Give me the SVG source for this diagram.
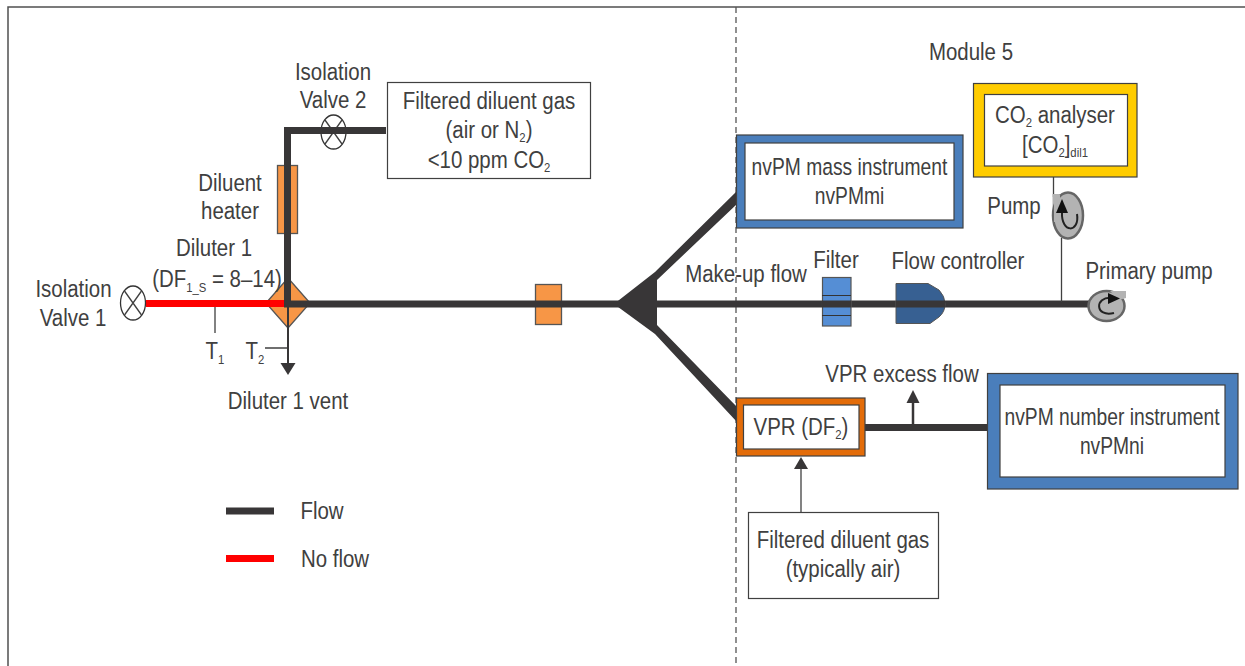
<svg xmlns="http://www.w3.org/2000/svg" width="1245" height="666" viewBox="0 0 1245 666">
<style>
text{font-family:"Liberation Sans",Arial,sans-serif;font-size:23.500px;fill:#404040;text-anchor:middle;transform-box:fill-box;transform-origin:center;transform:scaleX(.87)}
text.n{transform:scaleX(.82)}
.s{font-size:13px}
.flow{fill:none;stroke:#383637;stroke-width:7}
.thin{fill:none;stroke:#404040;stroke-width:1.300}
.box{fill:#fff;stroke:#404040;stroke-width:1.200}
.valve{fill:#fff;stroke:#333;stroke-width:1.300}
.heat{fill:#f79646;stroke:#555;stroke-width:1.300}
.pump{fill:#b3b3b3;stroke:#666;stroke-width:2.500}
.in{fill:none;stroke:#222;stroke-width:2}
.outer{stroke:#404040;stroke-width:1.200}
</style>
<rect width="1245" height="666" fill="#fff"/>
<path d="M8 666V7H1245" fill="none" stroke="#505050" stroke-width="1.500"/>
<path d="M736 7V666" fill="none" stroke="#555" stroke-width="1.300" stroke-dasharray="6 4"/>

<g id="diluter-1"><path class="heat" d="M288 278L310 303L288 328L266 303Z"/></g>
<g id="diluent-heater"><rect class="heat" x="277.500" y="165.500" width="20" height="68"/></g>
<g id="inline-heater"><rect class="heat" x="535.500" y="284.500" width="26" height="40"/></g>
<g id="isolation-valve-2"><ellipse class="valve" cx="333.500" cy="132" rx="12.500" ry="17"/><path class="thin" d="M325 120L342 144M342 120L325 144"/>
<text x="333" y="80">Isolation</text><text x="333" y="108">Valve 2</text></g>

<g id="connectors">
<path d="M146 303.500H284" fill="none" stroke="#f00" stroke-width="7"/>
<path class="flow" d="M386 130.500H287.500V304"/>
<path class="flow" d="M284 304H1090"/>
<path d="M614 304L655 272L737 191V204L657 280V325L737 407V422L655 334Z" fill="#383637"/>
<path class="flow" d="M865 427.500H988"/>
<path class="thin" d="M215 307V333M265 348H288"/>
<path d="M288 307V366" fill="none" stroke="#383637" stroke-width="2"/>
<path d="M280.500 363H295.500L288 375Z" fill="#383637"/>
<path d="M913 424V400" fill="none" stroke="#383637" stroke-width="2.500"/>
<path d="M906.500 403H919.500L913 390Z" fill="#383637"/>
<path class="thin" d="M801 512V466"/>
<path d="M794 469H808L801 457Z" fill="#383637"/>
<path class="thin" d="M1053.500 177V197M1061.500 238V302"/>
</g>

<g id="isolation-valve-1"><ellipse class="valve" cx="133" cy="303" rx="12.500" ry="17"/><path class="thin" d="M124.500 291L141.500 315M141.500 291L124.500 315"/>
<text x="73.500" y="297">Isolation</text><text x="73" y="326">Valve 1</text></g>

<g id="filtered-gas-top"><rect class="box" x="387.500" y="82.500" width="203" height="96"/>
<text x="489" y="109">Filtered diluent gas</text>
<text x="489" y="138">(air or N<tspan class="s" dy="4">2</tspan><tspan dy="-4">)</tspan></text>
<text x="489" y="168">&lt;10 ppm CO<tspan class="s" dy="4">2</tspan></text></g>

<g id="labels-left">
<text x="230" y="191">Diluent</text>
<text x="230" y="219">heater</text>
<text x="214" y="256">Diluter 1</text>
<text x="217" y="287">(DF<tspan class="s" dy="5">1_S</tspan><tspan dy="-5"> = 8–14)</tspan></text>
<text x="215" y="359">T<tspan class="s" dy="5">1</tspan></text>
<text x="255" y="359">T<tspan class="s" dy="5">2</tspan></text>
<text x="288" y="409">Diluter 1 vent</text>
</g>

<g id="legend">
<path d="M226 511H274" fill="none" stroke="#383637" stroke-width="7"/>
<path d="M226 558.500H274" fill="none" stroke="#f00" stroke-width="7"/>
<text x="322" y="519">Flow</text>
<text x="335" y="567">No flow</text>
</g>

<g id="nvpm-mass"><rect class="outer" x="736.500" y="135" width="226.500" height="93" fill="#4a7ebb"/><rect class="box" x="745" y="143" width="209" height="77"/>
<text class="n" x="849.500" y="175">nvPM mass instrument</text>
<text class="n" x="849.500" y="204">nvPMmi</text></g>

<g id="co2-analyser"><rect class="outer" x="973.500" y="83.500" width="163.500" height="93.500" fill="#ffcc00"/><rect class="box" x="984.500" y="94.500" width="143" height="71.500"/>
<text x="1055" y="123">CO<tspan class="s" dy="4">2</tspan><tspan dy="-4"> analyser</tspan></text>
<text x="1055" y="153">[CO<tspan class="s" dy="4">2</tspan><tspan dy="-4">]</tspan><tspan class="s" dy="4">dil1</tspan></text></g>

<g id="pump"><path d="M1052.500 194H1060V220H1052.500Z" fill="#b3b3b3"/><ellipse class="pump" cx="1068" cy="215.500" rx="15" ry="23"/><path d="M1054 195H1060V222H1054Z" fill="#b3b3b3"/><path class="in" d="M1062 212C1061 234 1080 233 1077 214"/><path d="M1056 213L1062 199L1068 213Z" fill="#111"/>
<text x="1014" y="214">Pump</text></g>

<g id="filter"><rect x="822.500" y="277.500" width="28.500" height="48.500" fill="#558ed5" stroke="#555" stroke-width="1.200"/><path d="M822 295.500H851M822 315.500H851" stroke="#333" stroke-width="1.200"/><path d="M822 304H851" stroke="#383637" stroke-width="7"/>
<text x="836" y="268">Filter</text></g>

<g id="flow-controller"><path d="M896 283.500H928L939 290Q945 296 945 304Q945 312 939 317L930 323.500H896Z" fill="#376092" stroke="#555" stroke-width="1"/><path d="M896 304H945" stroke="#383637" stroke-width="7"/>
<text x="958" y="269">Flow controller</text></g>

<g id="primary-pump"><ellipse class="pump" cx="1106.500" cy="306" rx="18" ry="15"/><path d="M1110 291H1126V298L1119 300Z" fill="#b3b3b3"/><path class="in" d="M1112 298C1094 296 1095 318 1114 313"/><path d="M1108 293L1120 298.500L1108 304Z" fill="#111"/>
<text x="1149" y="279">Primary pump</text></g>

<text id="makeup-label" x="746" y="282">Make-up flow</text>
<text id="module-label" x="971" y="60">Module 5</text>

<g id="vpr"><rect class="outer" x="736.500" y="398" width="128.500" height="58" fill="#e36c09"/><rect class="box" x="743.500" y="405" width="115.500" height="44"/>
<text x="801" y="435">VPR (DF<tspan class="s" dy="4">2</tspan><tspan dy="-4">)</tspan></text></g>
<text id="vpr-excess-label" x="902" y="382">VPR excess flow</text>

<g id="nvpm-number"><rect class="outer" x="987.500" y="373.500" width="250.500" height="115.500" fill="#4a7ebb"/><rect class="box" x="1000" y="385" width="225" height="92"/>
<text class="n" x="1112" y="425">nvPM number instrument</text>
<text class="n" x="1112" y="454">nvPMni</text></g>

<g id="filtered-gas-bottom"><rect class="box" x="748.500" y="512.500" width="190" height="86"/>
<text x="843" y="548">Filtered diluent gas</text>
<text x="843" y="577">(typically air)</text></g>
</svg>
